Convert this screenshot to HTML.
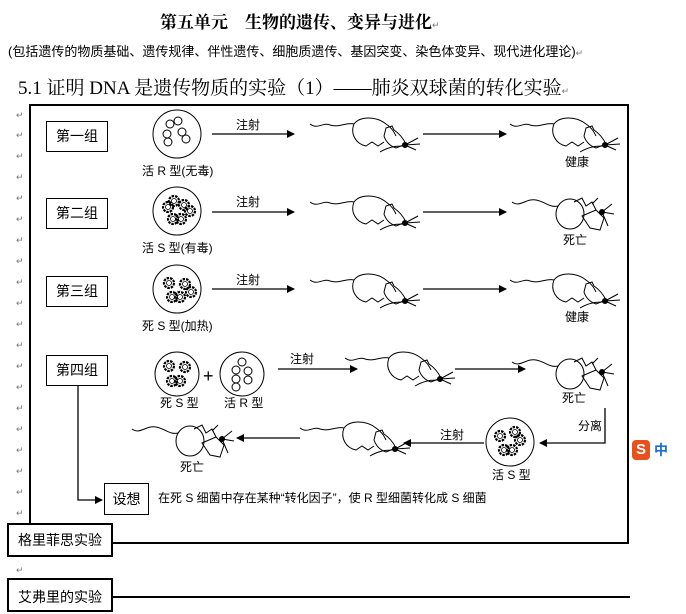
<!DOCTYPE html>
<html><head><meta charset="utf-8"><style>
body{margin:0;width:686px;height:599px;background:#fff;overflow:hidden;position:relative;font-family:"Liberation Sans","Noto Sans CJK SC",sans-serif;color:#000}
.t{position:absolute;white-space:nowrap}
.bx{position:absolute;border:1px solid #000;background:#fff;font-size:14px;text-align:center;box-sizing:border-box}
.m{position:absolute;left:16px;font-size:9px;color:#777}
</style></head><body>
<div class="t" style="left:160px;top:8px;font-size:17px;font-weight:bold;font-family:'Liberation Serif','Noto Serif CJK SC',serif">第五单元　生物的遗传、变异与进化<span style="font-size:9px;color:#777;font-weight:normal">↵</span></div>
<div class="t" style="left:8px;top:41px;font-size:13px">(包括遗传的物质基础、遗传规律、伴性遗传、细胞质遗传、基因突变、染色体变异、现代进化理论)<span style="font-size:9px;color:#777">↵</span></div>
<div class="t" style="left:18px;top:73px;font-size:19px;font-family:'Liberation Serif','Noto Serif CJK SC',serif">5.1 证明 DNA 是遗传物质的实验（1）——肺炎双球菌的转化实验<span style="font-size:9px;color:#777">↵</span></div>
<div style="position:absolute;left:29px;top:104px;width:596px;height:436px;border:2px solid #000"></div>
<div class="m" style="top:110px">↵</div><div class="m" style="top:130px">↵</div><div class="m" style="top:151px">↵</div><div class="m" style="top:172px">↵</div><div class="m" style="top:193px">↵</div><div class="m" style="top:214px">↵</div><div class="m" style="top:235px">↵</div><div class="m" style="top:256px">↵</div><div class="m" style="top:277px">↵</div><div class="m" style="top:298px">↵</div><div class="m" style="top:319px">↵</div><div class="m" style="top:340px">↵</div><div class="m" style="top:361px">↵</div><div class="m" style="top:382px">↵</div><div class="m" style="top:403px">↵</div><div class="m" style="top:424px">↵</div><div class="m" style="top:445px">↵</div><div class="m" style="top:466px">↵</div><div class="m" style="top:487px">↵</div><div class="m" style="top:508px">↵</div><div class="m" style="top:565px">↵</div>

<svg width="686" height="599" style="position:absolute;left:0;top:0" font-family="Liberation Sans,Noto Sans CJK SC,sans-serif">
<defs>
<marker id="a" markerWidth="8" markerHeight="8" refX="7" refY="4" orient="auto" markerUnits="userSpaceOnUse"><path d="M0,0L8,4L0,8z"/></marker>
<g id="mouse" fill="none" stroke="#000" stroke-width="1">
<path d="M0,8 C8,14 12,6 20,9 C30,12 36,6 44,8"/>
<path d="M44,8 C50,0 66,0 76,8 C82,12 84,16 86,20"/>
<path d="M44,8 C40,18 46,28 56,30 L62,26 L68,30 L74,26"/>
<path d="M76,12 L82,10 L84,14 C90,18 94,24 96,28 L86,32 C80,30 76,26 74,20z"/>
<circle cx="95" cy="29" r="2.5" fill="#000"/>
<path d="M95,29 L108,22 M95,29 L110,28 M95,29 L106,34 M70,36 C80,30 88,30 94,30"/>
</g>
<g id="dead" fill="none" stroke="#000" stroke-width="1">
<path d="M0,6 C8,12 14,2 24,4 C34,6 38,12 46,10"/>
<ellipse cx="58" cy="18" rx="14" ry="15"/>
<path d="M62,6 L70,2 L74,10 L80,6 L84,14"/>
<path d="M70,20 L84,14 L92,22 L88,34 L78,32z"/>
<circle cx="90" cy="16" r="2.5" fill="#000"/>
<path d="M90,16 L100,8 M90,16 L102,18 M90,16 L96,30 M80,8 L86,2"/>
</g>
<g id="s" fill="none" stroke="#000"><circle r="5" stroke-width="2.2" stroke-dasharray="2.5 1"/><circle r="2.5" stroke-width="0.8"/></g>
</defs>
<g fill="none" stroke="#000">
<circle cx="177" cy="134" r="24"/><circle cx="177" cy="211" r="24"/><circle cx="177" cy="289" r="24"/>
<circle cx="177" cy="374" r="22"/><circle cx="242" cy="374" r="22"/><circle cx="510" cy="442" r="24"/>
<g stroke-width="1"><circle cx="170" cy="124" r="4"/><circle cx="178" cy="121" r="4"/><circle cx="167" cy="134" r="4"/><circle cx="168" cy="142" r="4"/><circle cx="182" cy="132" r="4"/><circle cx="186" cy="139" r="4"/>
<circle cx="242" cy="362" r="4"/><circle cx="236" cy="370" r="4"/><circle cx="236" cy="379" r="4"/><circle cx="236" cy="387" r="4"/><circle cx="248" cy="371" r="4"/><circle cx="248" cy="380" r="4"/></g>
<g stroke-width="1.3">
<line x1="212" y1="134" x2="294" y2="134" marker-end="url(#a)"/>
<line x1="212" y1="212" x2="294" y2="212" marker-end="url(#a)"/>
<line x1="212" y1="289" x2="294" y2="289" marker-end="url(#a)"/>
<line x1="423" y1="134" x2="506" y2="134" marker-end="url(#a)"/>
<line x1="423" y1="212" x2="506" y2="212" marker-end="url(#a)"/>
<line x1="423" y1="289" x2="506" y2="289" marker-end="url(#a)"/>
<line x1="278" y1="369" x2="357" y2="369" marker-end="url(#a)"/>
<line x1="455" y1="369" x2="525" y2="369" marker-end="url(#a)"/>
<polyline points="605,408 605,443 540,443" marker-end="url(#a)"/>
<line x1="484" y1="443" x2="404" y2="443" marker-end="url(#a)"/>
<line x1="300" y1="438" x2="237" y2="438" marker-end="url(#a)"/>
<polyline points="78,386 78,500 102,500" marker-end="url(#a)"/>
</g>
</g>
<use href="#s" x="168" y="207"/><use href="#s" x="174" y="201"/><use href="#s" x="184" y="205"/><use href="#s" x="190" y="211"/><use href="#s" x="173" y="219"/><use href="#s" x="181" y="219"/>
<use href="#s" x="169" y="283"/><use href="#s" x="185" y="284"/><use href="#s" x="191" y="292"/><use href="#s" x="172" y="297"/><use href="#s" x="180" y="297"/>
<use href="#s" x="169" y="366"/><use href="#s" x="185" y="367"/><use href="#s" x="172" y="381"/><use href="#s" x="180" y="381"/>
<use href="#s" x="500" y="436"/><use href="#s" x="515" y="432"/><use href="#s" x="520" y="440"/><use href="#s" x="504" y="450"/><use href="#s" x="512" y="450"/>
<use href="#mouse" x="310" y="116"/><use href="#mouse" x="510" y="116"/>
<use href="#mouse" x="310" y="194"/><use href="#dead" x="512" y="196"/>
<use href="#mouse" x="310" y="272"/><use href="#mouse" x="510" y="272"/>
<use href="#mouse" x="345" y="350"/><use href="#dead" x="512" y="356"/>
<use href="#mouse" x="300" y="420"/><use href="#dead" x="132" y="423"/>
<g font-size="12">
<text x="236" y="129">注射</text><text x="236" y="206">注射</text><text x="236" y="284">注射</text><text x="290" y="363">注射</text><text x="440" y="439">注射</text>
<text x="142" y="175">活 R 型(无毒)</text><text x="142" y="252">活 S 型(有毒)</text><text x="142" y="330">死 S 型(加热)</text>
<text x="160" y="407">死 S 型</text><text x="224" y="407">活 R 型</text>
<text x="565" y="166">健康</text><text x="563" y="244">死亡</text><text x="565" y="321">健康</text><text x="562" y="402">死亡</text>
<text x="578" y="430">分离</text><text x="492" y="479">活 S 型</text><text x="180" y="471">死亡</text>
<text x="158" y="502">在死 S 细菌中存在某种“转化因子”，使 R 型细菌转化成 S 细菌</text>
</g>
<text x="203" y="382" font-size="18">+</text>
<line x1="7" y1="597" x2="630" y2="597" stroke="#000" stroke-width="2"/>
</svg>
<div class="bx" style="left:46px;top:121px;width:62px;height:31px;line-height:29px">第一组</div>
<div class="bx" style="left:46px;top:198px;width:62px;height:31px;line-height:29px">第二组</div>
<div class="bx" style="left:46px;top:276px;width:62px;height:31px;line-height:29px">第三组</div>
<div class="bx" style="left:46px;top:355px;width:62px;height:31px;line-height:29px">第四组</div>
<div class="bx" style="left:104px;top:483px;width:45px;height:32px;line-height:30px">设想</div>
<div class="bx" style="left:7px;top:523px;width:106px;height:34px;line-height:30px;border-width:2px">格里菲思实验</div>
<div class="bx" style="left:7px;top:578px;width:106px;height:34px;line-height:34px;border-width:2px">艾弗里的实验</div>
<div style="position:absolute;left:632px;top:440px;width:18px;height:20px;background:#e8501c;border-radius:4px;color:#fff;font-weight:bold;font-size:15px;text-align:center;line-height:20px">S</div>
<div class="t" style="left:654px;top:440px;font-size:14px;font-weight:bold;color:#1a6fd0">中</div>
</body></html>
